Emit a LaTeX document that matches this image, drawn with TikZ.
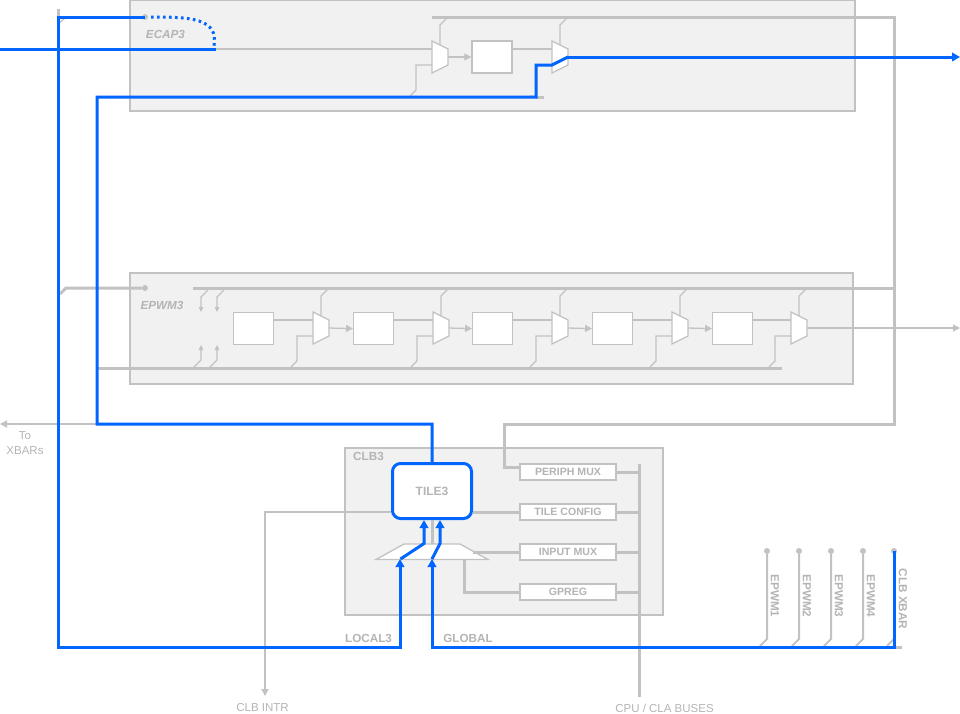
\documentclass[tikz,border=0pt]{standalone}
\usepackage{fontspec}
\setmainfont{Liberation Sans}
\usetikzlibrary{arrows.meta}
\definecolor{wiregray}{HTML}{C2C2C2}
\definecolor{panelgray}{HTML}{F1F1F1}
\definecolor{labelgray}{HTML}{B4B4B4}
\definecolor{sigblue}{HTML}{0066FF}
\tikzset{
  panel/.style={draw=wiregray,fill=panelgray,line width=2pt},
  regbox/.style={draw=wiregray,fill=white,line width=1.3pt,minimum width=40pt,minimum height=32pt,inner sep=0pt},
  cfgbox/.style={draw=wiregray,fill=white,line width=1.3pt,minimum width=96pt,minimum height=16pt,inner sep=0pt,
    text=labelgray,font=\fontsize{10.6}{12}\selectfont\bfseries},
  tilebox/.style={draw=sigblue,fill=white,line width=3pt,rounded corners=8pt,minimum width=79pt,minimum height=55pt,
    inner sep=0pt,text=labelgray,font=\fontsize{12}{14}\selectfont\bfseries},
  wire/.style={draw=wiregray,line width=1.3pt},
  bus/.style={draw=wiregray,line width=3pt},
  sig/.style={draw=sigblue,line width=3pt},
  gtip/.style={-{Triangle[length=7pt,width=7pt]}},
  btip/.style={-{Triangle[length=8pt,width=8.5pt]}},
  tag/.style={text=labelgray,inner sep=0pt,font=\fontsize{11.7}{14}\selectfont\bfseries},
  itag/.style={text=labelgray,inner sep=0pt,font=\fontsize{11.7}{14}\selectfont\bfseries\itshape},
  plain/.style={text=labelgray,inner sep=0pt,align=center,font=\fontsize{11.5}{15}\selectfont},
  dot/.style={circle,fill=wiregray,inner sep=0pt,minimum size=6pt},
}
% mux: name, left x, top y
\newcommand{\muxunit}[3]{
  \draw [wire,fill=white] (#2,#3) -- (#2+16,#3+8) -- (#2+16,#3+24) -- (#2,#3+32) -- cycle;
  \coordinate (#1-a) at (#2,#3+8);
  \coordinate (#1-b) at (#2,#3+24);
  \coordinate (#1-o) at (#2+16,#3+16);
  \coordinate (#1-s) at (#2+8,#3+4);
}
\begin{document}
\begin{tikzpicture}[x=1pt,y=-1pt]
  \useasboundingbox (0,0) rectangle (960,713);
  % panels
  \draw [panel] (129.5,0) rectangle (854.5,111);
  \draw [panel] (129.5,272.5) rectangle (853,384);
  \draw [panel] (345,448) rectangle (663,615);
  \node [itag] (ecaptag) at (165.5,34) {ECAP3};
  \node [itag] (epwmtag) at (162,305) {EPWM3};
  \node [tag] (clbtag) at (368.5,456) {CLB3};

  % bus ends and free ends
  \coordinate (ecaptop) at (432,17);
  \coordinate (corner) at (894,17);
  \coordinate (pwmtop) at (193,288);
  \coordinate (pwmlow) at (97,368);
  \coordinate (pwmlowend) at (782,368);
  \coordinate (ecaplow) at (536,97);
  \coordinate (ecaplowend) at (544,97);
  \coordinate (ret) at (504,424);
  \coordinate (xbarend) at (0,424);
  \coordinate (pwmout) at (960,328);
  \coordinate (capout) at (960,57);
  \coordinate (capin) at (0,49);
  \coordinate (capmid) at (216,49);
  \coordinate (intrend) at (265,696);
  \coordinate (busend) at (639,697);
  \coordinate (bustop) at (639,464);
  \coordinate (glast) at (902,647);
  \coordinate (gfirst) at (760,647);
  \node [dot] (capdot) at (145,17) {};
  \node [dot] (pwmdot) at (145,288) {};

  % ECAP path
  \node [regbox] (capreg) at (492,57) {};
  \muxunit{capa}{432}{41}
  \muxunit{capb}{552}{41}
  \draw [wire] (capmid) -- (capa-a);
  \draw [wire,gtip] (capa-o) -- (capreg.west);
  \draw [wire] (capreg.east |- capb-a) -- (capb-a);
  \draw [wire] (capa-s) -- ++(0,-20) -- ++(7,-7);
  \draw [wire] (capb-s) -- ++(0,-20) -- ++(7,-7);
  \draw [wire] (capa-b) -- ++(-16,0) -- ++(0,25) -- ++(-6,6);
  \draw [wire] (530,96) -- (ecaplow);
  \draw [bus] (ecaplow) -- (ecaplowend);
  \draw [bus] (ecaptop) -- (corner) -- (corner |- ret) -- (ret) -- (ret |- 0,467) -- (520,467);
  \draw [bus] (58,9) -- (58,17);
  \draw [wire] (58,24) -- (65,18);

  % EPWM path
  \draw [bus] (pwmtop) -- (corner |- pwmtop);
  \draw [bus] (pwmlow) -- (pwmlowend);
  \draw [bus] (60,294) -- (66,288) -- (pwmdot);
  \foreach \xa/\cname in {233/a,353/b,472/c,592/d,712/e}{
    \node [regbox,anchor=north west] (pwmreg\cname) at (\xa,312) {};
  }
  \foreach \xm/\cname in {313/a,433/b,552/c,672/d,791/e}{
    \muxunit{pwmmux\cname}{\xm}{312}
    \draw [wire] (pwmreg\cname.east |- pwmmux\cname-a) -- (pwmmux\cname-a);
    \draw [wire] (pwmmux\cname-s) -- ++(0,-20) -- ++(7,-7);
    \draw [wire] (pwmmux\cname-b) -- ++(-16,0) -- ++(0,25) -- ++(-6,6);
  }
  \foreach \cname/\dname in {a/b,b/c,c/d,d/e}{
    \draw [wire,gtip] (pwmmux\cname-o) -- (pwmreg\dname.west);
  }
  \draw [wire,gtip] (pwmmuxe-o) -- (pwmout);
  \foreach \xs in {201,217}{
    \draw [wire,-{Triangle[length=5pt,width=4.5pt]}] (\xs+7,290) -- (\xs,297) -- (\xs,312);
    \draw [wire,-{Triangle[length=5pt,width=4.5pt]}] (\xs-7,367) -- (\xs,360) -- (\xs,345);
  }

  % CLB
  \draw [wire,fill=white] (376,559.5) -- (404,544) -- (460,544) -- (488,559.5) -- cycle;
  \node [cfgbox] (periph) at (568,472) {PERIPH MUX};
  \node [cfgbox] (config) at (568,512) {TILE CONFIG};
  \node [cfgbox] (inmux) at (568,552) {INPUT MUX};
  \node [cfgbox] (gpreg) at (568,592) {GPREG};
  \node [tilebox] (tile) at (432,491) {TILE3};
  \draw [bus] (bustop) -- (busend);
  \foreach \nname in {periph,config,inmux,gpreg}{
    \draw [bus] (\nname.east) -- (\nname.east -| bustop);
  }
  \draw [bus] (tile.east |- config) -- (config.west);
  \draw [bus] (473,552) -- (inmux.west);
  \draw [bus] (464,560) -- (464,592) -- (gpreg.west);
  \draw [bus] (432,544) -- (tile.south);
  \draw [wire,gtip] (tile.west |- config) -- (intrend |- config) -- (intrend);
  \draw [wire,gtip] (97,424) -- (xbarend);
  \node [plain] (xbartag) at (25,443.5) {To\\XBARs};
  \node [plain] (intrtag) at (262.5,708) {CLB INTR};
  \node [plain] (bustag) at (664.5,708) {CPU / CLA BUSES};
  \node [tag] (localtag) at (368.5,638) {LOCAL3};
  \node [tag] (globaltag) at (468,638) {GLOBAL};

  % sources along the bottom
  \draw [bus] (gfirst) -- (glast);
  \foreach \xp/\pname in {767/EPWM1,799/EPWM2,831/EPWM3,863/EPWM4}{
    \node [dot] (dot\pname) at (\xp,551) {};
    \draw [draw=wiregray,line width=2pt] (dot\pname) -- (\xp,639) -- (\xp-7,646);
    \node [tag,rotate=-90] (tag\pname) at (\xp+8,596) {\pname};
  }
  \node [dot] (dotxbar) at (894,551) {};
  \draw [draw=wiregray,line width=2pt] (894,639) -- (887,646);
  \node [tag,rotate=-90] (tagxbar) at (903,599) {CLB XBAR};

  % highlighted signal route
  \draw [sig] (capin) -- (capmid);
  \draw [sig,dash pattern=on 2.6pt off 3.4pt] (151,17) .. controls (190,17) and (219,18) .. (214,46);
  \draw [sig] (capdot.center) -- (58,17) -- (58,647) -- (400,647) -- (400,568);
  \draw [sig,btip] (400,570) -- (400,559);
  \draw [sig,btip] (400.5,559) -- (424,543.5) -- (424,520);
  \draw [sig,btip] (432,559) -- (440,543.5) -- (440,520);
  \draw [sig,btip] (dotxbar.center) -- (894,647) -- (432,647) -- (432,559);
  \draw [sig] (tile.north) -- (432,424) -- (97,424) -- (97,97) -- (ecaplow) -- (536,65) -- (capb-b) -- (capb-o);
  \draw [sig,btip] (capb-o) -- (capout);
\end{tikzpicture}
\end{document}
